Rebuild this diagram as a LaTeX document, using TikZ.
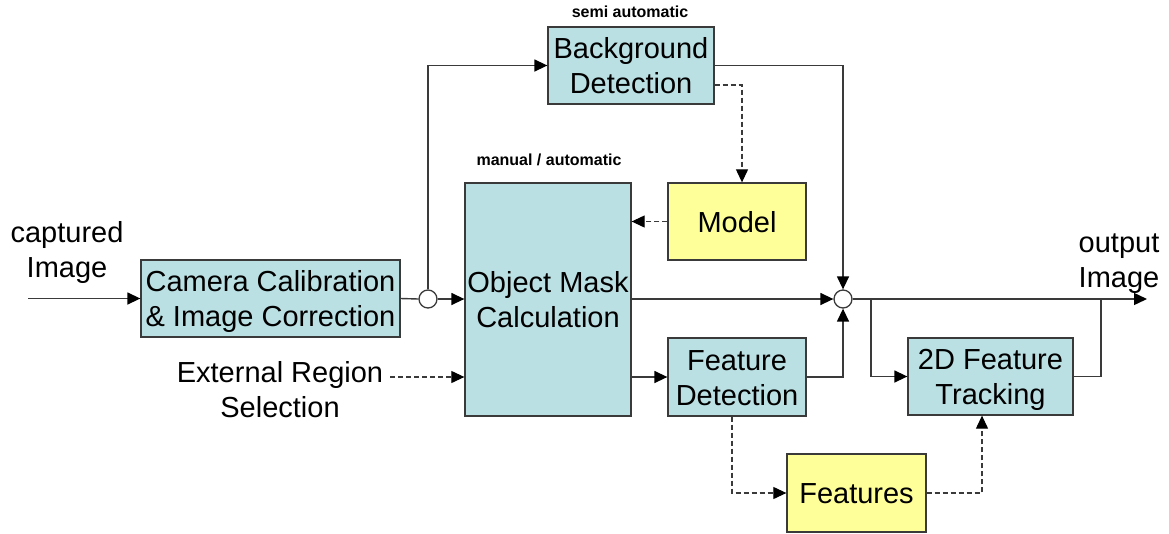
\documentclass[tikz,border=0pt]{standalone}
\usepackage{fontspec}
\setmainfont{Liberation Sans}
\usetikzlibrary{arrows.meta,positioning}
\definecolor{boxcyan}{HTML}{BAE0E3}
\definecolor{boxyellow}{HTML}{FFFF99}
\definecolor{linegray}{HTML}{3A3A3A}

\begin{document}
\begin{tikzpicture}[x=1pt,y=-1pt,>={Triangle[length=13pt,width=12pt,color=black]},
  box/.style={draw=linegray,line width=1.3pt,fill=boxcyan,inner sep=0pt,align=center,
    font=\fontsize{29}{35}\selectfont,text height=56pt,text depth=0pt},
  store/.style={box,fill=boxyellow,text height=21pt},
  hub/.style={draw=linegray,line width=1.3pt,fill=white,circle,minimum size=18pt,inner sep=0pt},
  wire/.style={draw=linegray,line width=1.4pt},
  dwire/.style={wire,dashed,line width=1.1pt,dash pattern=on 5pt off 3pt},
  note/.style={align=center,font=\fontsize{29}{35}\selectfont},
  tiny/.style={font=\fontsize{16}{19}\selectfont\bfseries}]
  \useasboundingbox (0,0) rectangle (1169,533);

  % blocks
  \node[box,minimum width=259pt,minimum height=77pt] (calib) at (270.5,298.5)
    {Camera Calibration\\\& Image Correction};
  \node[box,minimum width=166pt,minimum height=77pt] (bgdet) at (631,65.5)
    {Background\\Detection};
  \node[box,minimum width=166pt,minimum height=233pt] (mask) at (548,299.5)
    {Object Mask\\Calculation};
  \node[store,minimum width=138pt,minimum height=77pt] (model) at (737,221.5) {Model};
  \node[box,minimum width=138pt,minimum height=78pt] (featdet) at (737,377)
    {Feature\\Detection};
  \node[box,minimum width=165pt,minimum height=77pt] (track) at (990.5,376.5)
    {2D Feature\\Tracking};
  \node[store,minimum width=139pt,minimum height=78pt] (feats) at (856.5,493) {Features};
  \node[hub] (hubA) at (428,299) {};
  \node[hub] (hubB) at (843,299) {};

  % labels
  \node[tiny] (semi) at (630,12) {semi automatic};
  \node[tiny] (manual) at (549,160) {manual / automatic};
  \node[note] (capt) at (67,252) {captured\\Image};
  \node[note] (outp) at (1119,264) {output\\Image};
  \node[note] (ext) at (280,390) {External Region\\Selection};

  \coordinate (src) at (28,298.5);
  \coordinate (extout) at (390,377);
  \coordinate (split) at (871,299);
  \coordinate (merge) at (1101,299);
  \coordinate (sink) at (1147,299);

  % main flow
  \draw[wire,->] (src) -- (calib.west);
  \draw[wire] (calib.east) -- (hubA.west);
  \draw[wire,->] (hubA.east) -- (hubA.east -| mask.west);
  \draw[wire,->] (hubA.north) |- (bgdet.west);
  \draw[wire,->] (bgdet.east) -| (hubB.north);
  \draw[wire,->] (hubB.west -| mask.east) -- (hubB.west);
  \draw[wire,->] (featdet.west -| mask.east) -- (featdet.west);
  \draw[wire,->] (featdet.east) -| (hubB.south);
  \draw[wire,->] (hubB.east) -- (sink);
  \draw[wire,->] (split) |- (track.west);
  \draw[wire] (track.east) -| (merge);

  % dashed data paths
  \draw[dwire,->] ([yshift=-19.5pt]bgdet.east) -| ([xshift=5pt]model.north);
  \draw[dwire,->] (model.west) -- (model.west -| mask.east);
  \draw[dwire,->] (extout) -- (extout -| mask.west);
  \draw[dwire,->] ([xshift=-5pt]featdet.south) |- (feats.west);
  \draw[dwire,->] (feats.east) -| ([xshift=-8.5pt]track.south);

\end{tikzpicture}
\end{document}
